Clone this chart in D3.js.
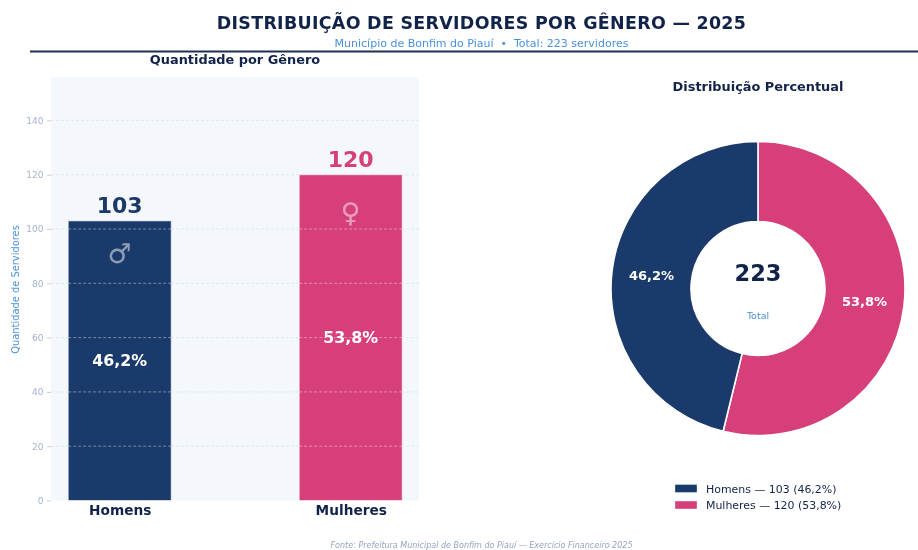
<!DOCTYPE html>
<html><head><meta charset="utf-8">
<script src="https://cdn.jsdelivr.net/npm/d3@7"></script>
<style>html,body{margin:0;padding:0;background:#fff}svg{display:block;filter:blur(0.35px)}text{font-family:"DejaVu Sans",sans-serif}</style>
</head><body><svg id="c" width="918" height="550"></svg>
<script>
const categories = ["Homens", "Mulheres"];
const values = [103, 120];
const percentLabels = ["46,2%", "53,8%"];
const symbols = ["♂", "♀"];
const colors = ["#1a3a6b", "#d63f7a"];
const yTicks = [0, 20, 40, 60, 80, 100, 120, 140];
const total = 223;
const legendLabels = ["Homens — 103 (46,2%)", "Mulheres — 120 (53,8%)"];

const navy = "#12234a", blue = "#4a90d9", tickCol = "#a3b3cc";
const svg = d3.select("#c");
const txt = (x, y, s, size, fill, weight, anchor = "middle") => svg.append("text")
  .attr("x", x).attr("y", y).attr("text-anchor", anchor).attr("font-size", size)
  .attr("font-weight", weight || "normal").attr("fill", fill).text(s);

// header
txt(481.5, 29, "DISTRIBUIÇÃO DE SERVIDORES POR GÊNERO — 2025", 17.45, navy, "bold").attr("letter-spacing", 0.3);
txt(481.5, 47, "Município de Bonfim do Piauí  •  Total: 223 servidores", 11, blue).attr("xml:space", "preserve");
svg.append("line").attr("x1", 30).attr("x2", 918).attr("y1", 51.5).attr("y2", 51.5).attr("stroke", "#1f2f52").attr("stroke-width", 2);

// bars
const L = 51, R = 419, T = 77, B = 500.5;
const y = d3.scaleLinear().domain([0, 156]).range([B, T]);
const x = d3.scalePoint().domain(categories).range([119.7, 350.7]);
const barW = 103;
svg.append("rect").attr("x", L).attr("y", T).attr("width", R - L).attr("height", B - T).attr("fill", "#f4f7fc");
txt(235, 63.5, "Quantidade por Gênero", 12.9, navy, "bold");

svg.append("g").selectAll("line").data(yTicks.filter(d => d > 0)).join("line")
  .attr("x1", L).attr("x2", R).attr("y1", d => y(d)).attr("y2", d => y(d))
  .attr("stroke", "#dde4ef").attr("stroke-width", 0.8).attr("stroke-dasharray", "3 2");

svg.append("g").selectAll("rect").data(categories).join("rect")
  .attr("x", d => x(d) - barW / 2).attr("width", barW)
  .attr("y", (d, i) => y(values[i])).attr("height", (d, i) => B - y(values[i]))
  .attr("fill", (d, i) => colors[i]).attr("stroke", "#ffffff").attr("stroke-opacity", 0.6).attr("stroke-width", 1);

// grid over the bars
categories.forEach((c, i) => {
  svg.append("g").selectAll("line").data(yTicks.filter(d => d > 0 && d < values[i])).join("line")
    .attr("x1", x(c) - barW / 2).attr("x2", x(c) + barW / 2).attr("y1", d => y(d)).attr("y2", d => y(d))
    .attr("stroke", "#ffffff").attr("stroke-opacity", 0.5).attr("stroke-width", 0.8).attr("stroke-dasharray", "3 2");
});

const yAxis = d3.axisLeft(y).tickValues(yTicks).tickSize(4).tickPadding(3.5);
const gy = svg.append("g").attr("transform", `translate(${L},0)`).call(yAxis);
gy.select(".domain").remove();
gy.selectAll("line").attr("stroke", "#b7c3d6").attr("stroke-width", 0.8);
gy.selectAll("text").attr("fill", tickCol).attr("font-size", 9).attr("font-family", '"DejaVu Sans"');
txt(0, 0, "Quantidade de Servidores", 9.9, blue).attr("transform", "translate(18.5,289.5) rotate(-90)");

const xAxis = d3.axisBottom(x).tickSize(0).tickPadding(4.5);
const gx = svg.append("g").attr("transform", `translate(0,${B})`).call(xAxis);
gx.select(".domain").remove();
gx.selectAll("text").attr("fill", navy).attr("font-size", 13.7).attr("font-weight", "bold").attr("font-family", '"DejaVu Sans"');

const symbolShift = [10, 15];
categories.forEach((c, i) => {
  txt(x(c), y(values[i]) - 8, values[i], 22, colors[i], "bold");
  txt(x(c), y(values[i] / 2) + 5, percentLabels[i], 15.8, "#ffffff", "bold");
  txt(x(c), y(values[i] - 12) + symbolShift[i], symbols[i], 27, "#ffffff").attr("fill-opacity", 0.5);
});

// donut
const cx = 758, cy = 288.5, rO = 147, rI = 67;
txt(cx, 91, "Distribuição Percentual", 12.9, navy, "bold");
const pie = d3.pie().sort(null).startAngle(0).endAngle(2 * Math.PI);
const arcs = pie([values[1], values[0]]);
const arc = d3.arc().innerRadius(rI).outerRadius(rO);
const dg = svg.append("g").attr("transform", `translate(${cx},${cy})`);
dg.selectAll("path").data(arcs).join("path").attr("d", arc)
  .attr("fill", (d, i) => colors[1 - i]).attr("stroke", "#ffffff").attr("stroke-width", 1.6);
const labelArc = d3.arc().innerRadius(rO * 0.73).outerRadius(rO * 0.73);
arcs.forEach((a, i) => {
  const [px, py] = labelArc.centroid(a);
  txt(cx + px, cy + py + 4.5, percentLabels[1 - i], 13, "#ffffff", "bold");
});
txt(cx, 281, total, 22.5, navy, "bold");
txt(cx, 318.5, "Total", 9.5, blue);

// legend
legendLabels.forEach((s, i) => {
  const ly = 488.5 + i * 16.5;
  svg.append("rect").attr("x", 675).attr("y", ly - 4).attr("width", 22).attr("height", 8).attr("fill", colors[i]).attr("stroke", "#ffffff").attr("stroke-opacity", .6).attr("stroke-width", .6);
  txt(706, ly + 4, s, 10.95, navy, "normal", "start");
});

txt(481.5, 548, "Fonte: Prefeitura Municipal de Bonfim do Piauí — Exercício Financeiro 2025", 8, "#94a3c0").attr("font-style", "italic");
</script></body></html>
